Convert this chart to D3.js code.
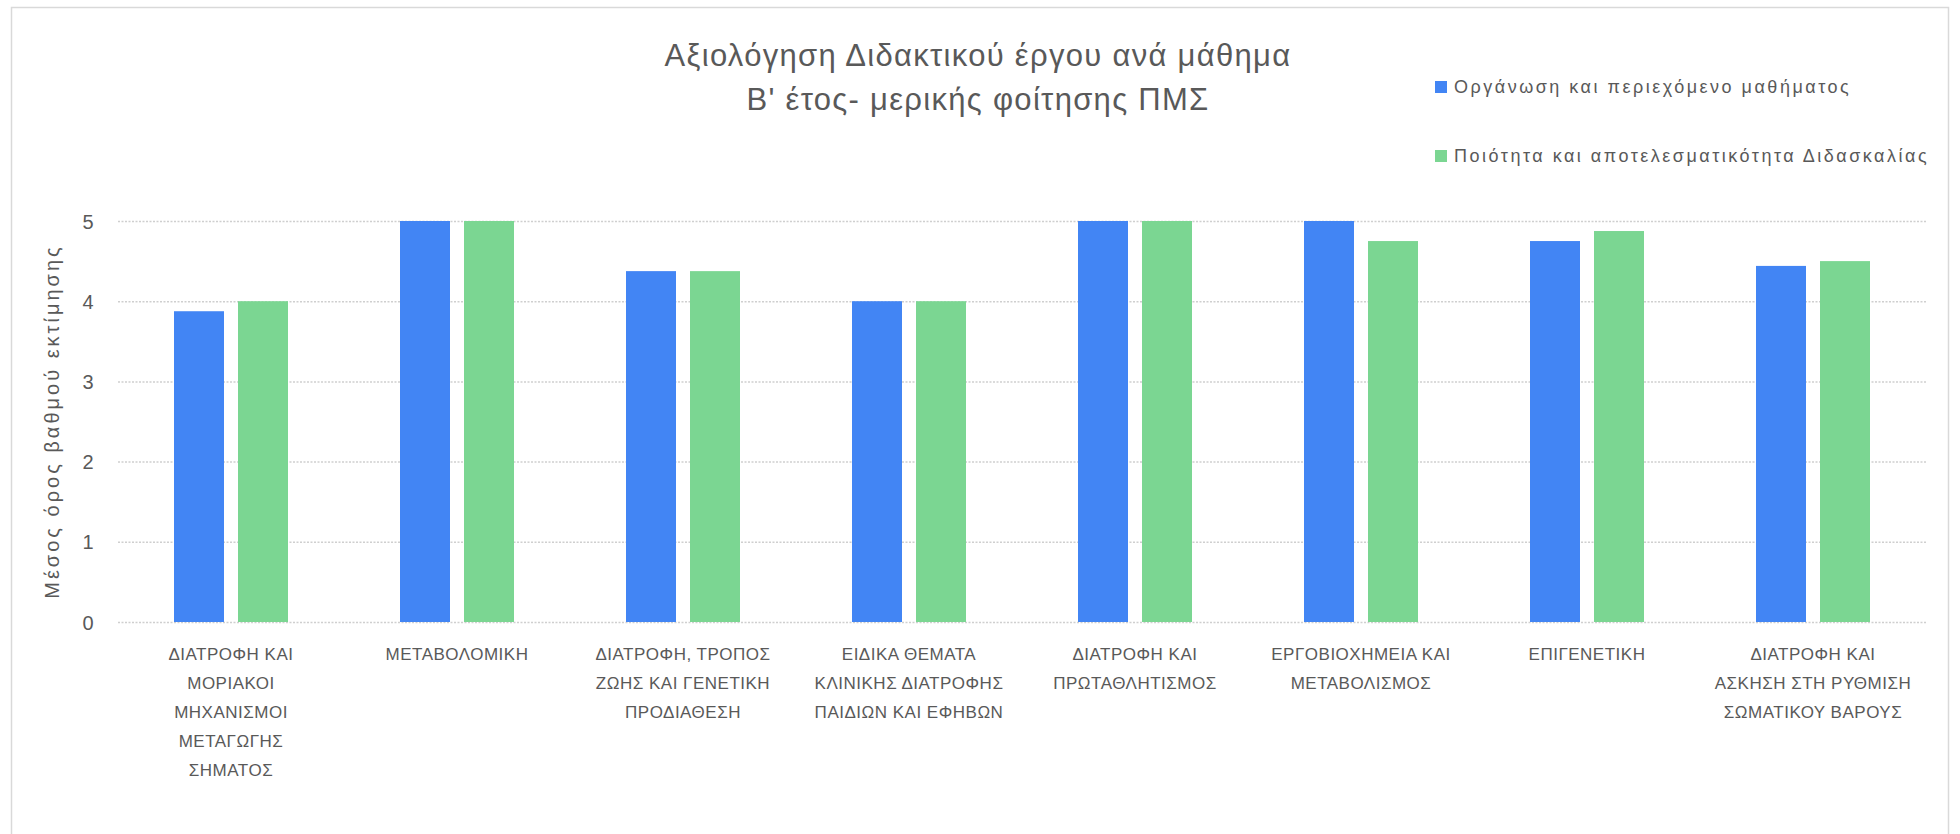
<!DOCTYPE html>
<meta charset="utf-8" />
<style>
  body {
    margin: 0;
    background: #fff;
  }
  text {
    font-family: "Liberation Sans", Arial, sans-serif;
    fill: #595959;
  }
</style>
<body>
  <div id="my_dataviz"></div>
  <script src="https://d3js.org/d3.v7.min.js"></script>
  <script>
    // data
    var categories = [
      "ΔΙΑΤΡΟΦΗ ΚΑΙ|ΜΟΡΙΑΚΟΙ|ΜΗΧΑΝΙΣΜΟΙ|ΜΕΤΑΓΩΓΗΣ|ΣΗΜΑΤΟΣ",
      "ΜΕΤΑΒΟΛΟΜΙΚΗ",
      "ΔΙΑΤΡΟΦΗ, ΤΡΟΠΟΣ|ΖΩΗΣ ΚΑΙ ΓΕΝΕΤΙΚΗ|ΠΡΟΔΙΑΘΕΣΗ",
      "ΕΙΔΙΚΑ ΘΕΜΑΤΑ|ΚΛΙΝΙΚΗΣ ΔΙΑΤΡΟΦΗΣ|ΠΑΙΔΙΩΝ ΚΑΙ ΕΦΗΒΩΝ",
      "ΔΙΑΤΡΟΦΗ ΚΑΙ|ΠΡΩΤΑΘΛΗΤΙΣΜΟΣ",
      "ΕΡΓΟΒΙΟΧΗΜΕΙΑ ΚΑΙ|ΜΕΤΑΒΟΛΙΣΜΟΣ",
      "ΕΠΙΓΕΝΕΤΙΚΗ",
      "ΔΙΑΤΡΟΦΗ ΚΑΙ|ΑΣΚΗΣΗ ΣΤΗ ΡΥΘΜΙΣΗ|ΣΩΜΑΤΙΚΟΥ ΒΑΡΟΥΣ"
    ];
    var seriesNames = [
      "Οργάνωση και περιεχόμενο μαθήματος",
      "Ποιότητα και αποτελεσματικότητα Διδασκαλίας"
    ];
    var organisation = [3.875, 5, 4.375, 4, 5, 5, 4.75, 4.44];
    var teaching = [4, 5, 4.375, 4, 5, 4.75, 4.875, 4.5];
    var yTicks = [0, 1, 2, 3, 4, 5];
    var colors = ["#4285f4", "#7bd692"];

    var titleLines = [
      "Αξιολόγηση Διδακτικού έργου ανά μάθημα",
      "Β' έτος- μερικής φοίτησης ΠΜΣ"
    ];
    var yTitle = "Μέσος όρος βαθμού εκτίμησης";

    var W = 1960,
      H = 834;
    var margin = { top: 221, right: 34, bottom: 212, left: 118 },
      width = W - margin.left - margin.right,
      height = H - margin.top - margin.bottom;

    var root = d3
      .select("#my_dataviz")
      .append("svg")
      .attr("width", W)
      .attr("height", H);

    // chart frame
    root
      .append("rect")
      .attr("x", 11.5)
      .attr("y", 7.5)
      .attr("width", 1937)
      .attr("height", 860)
      .attr("fill", "none")
      .attr("stroke", "#d9d9d9")
      .attr("stroke-width", 1.5);

    var svg = root
      .append("g")
      .attr("transform", "translate(" + margin.left + "," + margin.top + ")");

    var table = categories.map(function(c, i) {
      return { cat: c, values: [organisation[i], teaching[i]] };
    });

    var x0 = d3
      .scaleBand()
      .domain(categories)
      .range([0, width]);

    var x1 = d3
      .scaleBand()
      .domain([0, 1])
      .range([0, x0.bandwidth()])
      .paddingInner(0.21875)
      .paddingOuter(0.875);

    var y = d3
      .scaleLinear()
      .domain([0, 5])
      .range([height, 0]);

    // gridlines
    svg
      .append("g")
      .selectAll("line")
      .data(yTicks)
      .enter()
      .append("line")
      .attr("x1", 0)
      .attr("x2", width)
      .attr("y1", function(d) {
        return y(d) + 0.5;
      })
      .attr("y2", function(d) {
        return y(d) + 0.5;
      })
      .attr("stroke", "#cfcfcf")
      .attr("stroke-width", 1.5)
      .attr("stroke-dasharray", "2,1.5");

    // y axis labels
    var yAxis = svg
      .append("g")
      .attr("transform", "translate(-30,0)")
      .call(
        d3
          .axisLeft(y)
          .tickValues(yTicks)
          .tickFormat(d3.format("d"))
          .tickSize(0)
          .tickPadding(0)
      );
    yAxis.select(".domain").remove();
    yAxis
      .selectAll("text")
      .attr("fill", "#595959")
      .style("font-size", "20px")
      .style("text-anchor", "middle")
      .attr("dy", "0.35em");

    // bars
    svg
      .append("g")
      .selectAll("g")
      .data(table)
      .enter()
      .append("g")
      .attr("transform", function(d) {
        return "translate(" + x0(d.cat) + ",0)";
      })
      .selectAll("rect")
      .data(function(d) {
        return d.values;
      })
      .enter()
      .append("rect")
      .attr("x", function(d, i) {
        return x1(i);
      })
      .attr("width", x1.bandwidth())
      .attr("y", function(d) {
        return y(d);
      })
      .attr("height", function(d) {
        return height - y(d);
      })
      .attr("fill", function(d, i) {
        return colors[i];
      });

    // category labels, pre-wrapped like the original
    var xLabels = svg
      .append("g")
      .selectAll("text")
      .data(categories)
      .enter()
      .append("text")
      .attr("x", function(d) {
        return x0(d) + x0.bandwidth() / 2;
      })
      .attr("y", height + 38)
      .style("text-anchor", "middle")
      .style("font-size", "17px")
      .style("letter-spacing", "0.5px");
    xLabels
      .selectAll("tspan")
      .data(function(d) {
        return d.split("|");
      })
      .enter()
      .append("tspan")
      .attr("x", function() {
        return d3.select(this.parentNode).attr("x");
      })
      .attr("dy", function(d, i) {
        return i === 0 ? 0 : 29;
      })
      .text(function(d) {
        return d;
      });

    // y axis title
    root
      .append("text")
      .attr("transform", "translate(52," + (margin.top + height / 2) + ") rotate(-90)")
      .attr("dy", "0.35em")
      .style("text-anchor", "middle")
      .style("font-size", "20px")
      .style("letter-spacing", "3px")
      .text(yTitle);

    // title
    root
      .append("g")
      .selectAll("text")
      .data(titleLines)
      .enter()
      .append("text")
      .attr("x", 978)
      .attr("y", function(d, i) {
        return 66 + i * 44;
      })
      .style("text-anchor", "middle")
      .style("font-size", "31px")
      .style("letter-spacing", "1.3px")
      .text(function(d) {
        return d;
      });

    // legend
    var legend = root
      .append("g")
      .selectAll("g")
      .data(seriesNames)
      .enter()
      .append("g")
      .attr("transform", function(d, i) {
        return "translate(1435," + (81 + i * 69) + ")";
      });
    legend
      .append("rect")
      .attr("width", 12)
      .attr("height", 12)
      .attr("fill", function(d, i) {
        return colors[i];
      });
    legend
      .append("text")
      .attr("x", 19)
      .attr("y", 6)
      .attr("dy", "0.35em")
      .style("font-size", "18px")
      .style("letter-spacing", "2.5px")
      .text(function(d) {
        return d;
      });
  </script>
</body>
